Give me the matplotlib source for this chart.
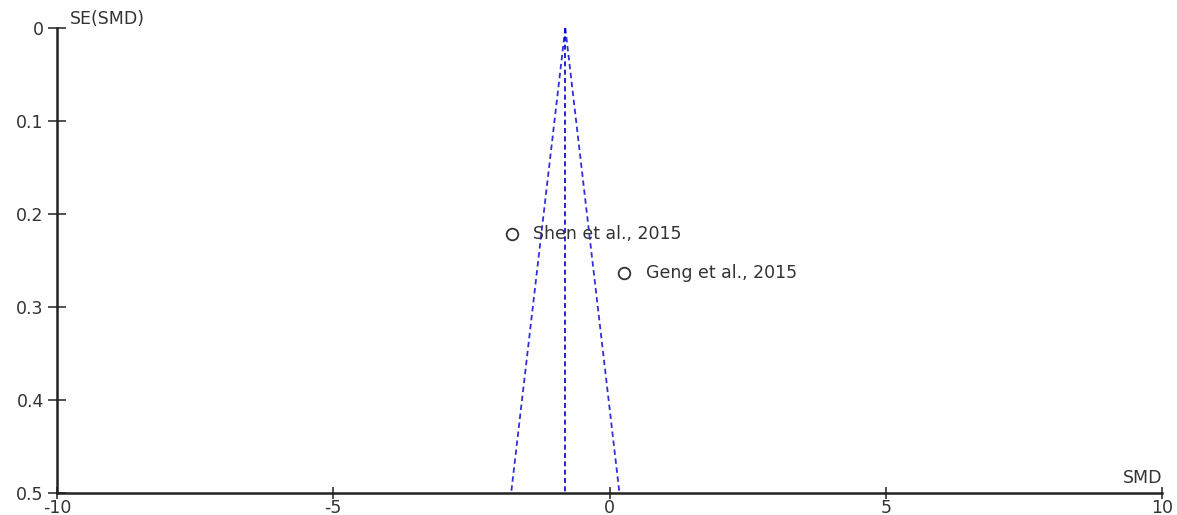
import matplotlib
matplotlib.use("Agg")
import matplotlib.pyplot as plt
import numpy as np

# study data
studies = ["Shen et al., 2015", "Geng et al., 2015"]
smd = [-1.77, 0.27]
se_smd = [0.222, 0.263]

pooled_smd = -0.80
se_max = 0.5

x_ticks = [-10, -5, 0, 5, 10]
y_ticks = [0, 0.1, 0.2, 0.3, 0.4, 0.5]
y_tick_labels = ['0', '0.1', '0.2', '0.3', '0.4', '0.5']

plt.rcParams['font.family'] = ['DejaVu Sans']
fsize = 12.5
txt_col = '#333333'

fig = plt.figure(figsize=(11.77, 5.15), dpi=100)
ax = fig.add_axes([57/1177, 22/515, 1105/1177, 465/515])

# funnel (95% limits) and pooled estimate
se_line = np.array([0, se_max])
ax.plot(pooled_smd - 1.96*se_line, se_line, color='#3030d8', ls=(0, (3, 2)), lw=1.3)
ax.plot(pooled_smd + 1.96*se_line, se_line, color='#3030d8', ls=(0, (3, 2)), lw=1.3)
ax.plot([pooled_smd, pooled_smd], [0, se_max], color='#0000c8', ls=(0, (3, 2)), lw=1.2)

ax.scatter(smd, se_smd, s=70, facecolors='white', edgecolors='#333333', linewidths=1.3, zorder=3)
for name, x, y in zip(studies, smd, se_smd):
    ax.annotate(name, (x, y), xytext=(15.5, 0), textcoords='offset points',
                va='center', ha='left', fontsize=fsize, color=txt_col)

ax.set_xlim(-10, 10)
ax.set_ylim(0.5, 0)
ax.set_xticks(x_ticks)
ax.set_yticks(y_ticks)
ax.set_xticklabels([str(t) for t in x_ticks])
ax.set_yticklabels(y_tick_labels)

for s in ['top', 'right']:
    ax.spines[s].set_visible(False)
for s in ['left', 'bottom']:
    ax.spines[s].set_linewidth(1.8)
    ax.spines[s].set_color('#222222')

ax.tick_params(axis='x', direction='inout', length=8.5, width=1.2, labelsize=fsize,
               colors=txt_col, pad=0)
ax.tick_params(axis='y', direction='inout', length=13, width=1.2, labelsize=fsize,
               colors=txt_col, pad=3)

ax.text(0.012, 1.0, 'SE(SMD)', transform=ax.transAxes, ha='left', va='bottom',
        fontsize=fsize, color=txt_col)
ax.text(1.0, 0.012, 'SMD', transform=ax.transAxes, ha='right', va='bottom',
        fontsize=fsize, color=txt_col)

fig.savefig('out.png', dpi=100)
